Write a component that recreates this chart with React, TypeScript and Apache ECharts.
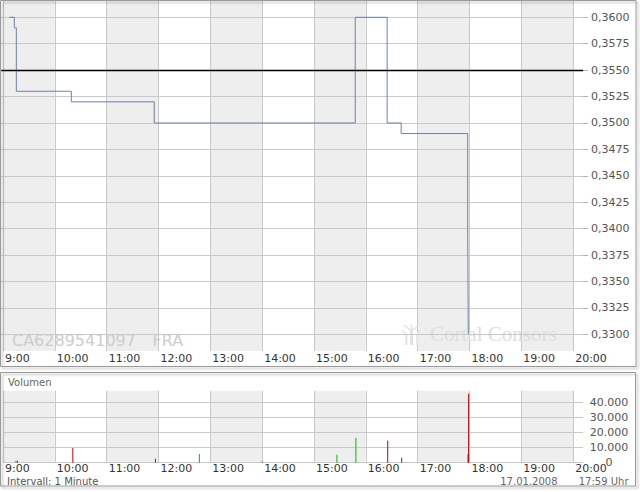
import React, { useEffect, useRef } from "react";
import * as echarts from "echarts";

// ---- data ----
const hourLabels = ["9:00", "10:00", "11:00", "12:00", "13:00", "14:00", "15:00", "16:00", "17:00", "18:00", "19:00", "20:00"];
const priceTimes = ["09:09:00", "09:15:00", "09:17:20", "10:20:50", "11:56:30", "15:48:30", "16:25:20", "16:41:30", "17:58:20", "17:59:00"];
const priceValues = [0.36, 0.359, 0.353, 0.352, 0.35, 0.36, 0.35, 0.349, 0.34, 0.33];
const previousClose = 0.355;
const volumeTimes = ["09:15:00", "09:16:40", "10:20:50", "11:56:30", "12:47:20", "14:00:00", "15:26:30", "15:48:30", "16:25:20", "16:41:30", "17:58:20", "17:59:00"];
const volumeValues = [1300, 1300, 9700, 2650, 5800, 1000, 5300, 16500, 14600, 3300, 5700, 45500];
const volumeDirection = ["up", "down", "down", "down", "up", "up", "up", "up", "down", "down", "down", "down"];
const isin = "CA6289541097";
const exchange = "FRA";
const dateText = "17.01.2008";
const timeText = "17:59 Uhr";
const intervalText = "Intervall: 1 Minute";

const toHours = (s: string) => {
  const [h, m, sec] = s.split(":").map(Number);
  return h + m / 60 + (sec || 0) / 3600;
};

const X_MIN = 9;
const X_MAX = 20.19;
const FONT = "DejaVu Sans";
const GRID_LINE = "#c9c9c9";

export default function App() {
  const ref = useRef<HTMLDivElement>(null);
  useEffect(() => {
    if (!ref.current) return;
    const chart = echarts.init(ref.current, null, { renderer: "svg" });

    const hourFmt = (v: number) => hourLabels[Math.round(v) - 9] ?? "";
    const baseX = (gridIndex: number, showStuff: boolean, margin: number) => ({
      type: "value" as const,
      gridIndex,
      min: X_MIN,
      max: X_MAX,
      interval: 1,
      show: showStuff,
      z: -1,
      axisLine: { show: false },
      axisTick: { show: false },
      splitArea: { show: showStuff, areaStyle: { color: ["#eeeeee", "#ffffff"] } },
      splitLine: { show: showStuff, showMaxLine: false, lineStyle: { color: GRID_LINE, width: 1 } },
      axisLabel: {
        show: showStuff,
        formatter: hourFmt,
        showMaxLabel: false,
        align: "left",
        padding: [0, 0, 0, 2],
        margin,
        lineHeight: 11,
        fontFamily: FONT,
        fontSize: 11,
        color: "#333",
      },
    });

    const pricePoints = priceTimes.map((t, i) => [toHours(t), priceValues[i]]);
    const volumePoints = volumeTimes.map((t, i) => ({
      value: [toHours(t), volumeValues[i]],
      itemStyle: { color: volumeDirection[i] === "up" ? "#00c000" : "#c00000" },
    }));

    const fmtThousands = (v: number) => {
      const s = Math.round(v).toString();
      return s.replace(/\B(?=(\d{3})+(?!\d))/g, ".");
    };

    chart.setOption({
      animation: false,
      backgroundColor: "#ffffff",
      grid: [
        { left: 1.3, right: 57, top: 1, height: 350 },
        { left: 1.3, right: 57, top: 1, height: 333.3 },
        { left: 1.3, right: 57, top: 390.7, height: 72 },
      ],
      xAxis: [
        baseX(0, true, 1.5),
        { ...baseX(1, false, 1) },
        baseX(2, true, 0.5),
      ],
      yAxis: [
        { type: "value", gridIndex: 0, min: 0, max: 1, show: false },
        {
          type: "value",
          gridIndex: 1,
          position: "right",
          min: 0.33,
          max: 0.361543,
          interval: 0.0025,
          axisLine: { show: false },
          axisTick: { show: true, length: 5, lineStyle: { color: "#b0b0b0" } },
          splitLine: { show: true, showMaxLine: false, lineStyle: { color: GRID_LINE, width: 1 } },
          axisLabel: {
            showMaxLabel: false,
            margin: 8,
            formatter: (v: number) => v.toFixed(4).replace(".", ","),
            fontFamily: FONT,
            fontSize: 11,
            color: "#555",
          },
        },
        {
          type: "value",
          gridIndex: 2,
          position: "right",
          min: 0,
          max: 47550,
          interval: 10000,
          axisLine: { show: false },
          axisTick: { show: false },
          splitLine: { show: true, showMaxLine: false, lineStyle: { color: GRID_LINE, width: 1 } },
          axisLabel: {
            showMaxLabel: false,
            margin: 26,
            align: "center",
            lineHeight: 11,
            formatter: fmtThousands,
            fontFamily: FONT,
            fontSize: 11,
            color: "#555",
          },
        },
      ],
      series: [
        {
          type: "line",
          xAxisIndex: 1,
          yAxisIndex: 1,
          step: "end",
          symbol: "none",
          data: pricePoints,
          lineStyle: { color: "#6f80a8", width: 1 },
          markLine: {
            silent: true,
            precision: 4,
            symbol: ["none", "none"],
            label: { show: false },
            lineStyle: { color: "#000000", width: 1.3, type: "solid" },
            data: [{ yAxis: previousClose }],
          },
          z: 3,
        },
        {
          type: "bar",
          xAxisIndex: 2,
          yAxisIndex: 2,
          barWidth: 1,
          data: volumePoints,
          z: 3,
        },
      ],
      graphic: [
        {
          type: "rect",
          shape: { x: 0.5, y: 0.5, width: 635.5, height: 366 },
          style: { fill: "none", stroke: "#9a9a9a", lineWidth: 1, shadowBlur: 2, shadowOffsetX: 2, shadowOffsetY: 2, shadowColor: "rgba(0,0,0,0.3)" },
          silent: true,
          z: 10,
        },
        {
          type: "rect",
          shape: { x: 0.5, y: 372.5, width: 635, height: 113.5 },
          style: { fill: "none", stroke: "#9a9a9a", lineWidth: 1, shadowBlur: 2, shadowOffsetX: 2, shadowOffsetY: 2, shadowColor: "rgba(0,0,0,0.3)" },
          silent: true,
          z: 10,
        },
        {
          type: "text",
          x: 12,
          y: 340,
          style: { text: isin, fontFamily: FONT, fontSize: 16, fill: "#cdcdcd", verticalAlign: "middle" },
          silent: true,
        },
        {
          type: "text",
          x: 152.5,
          y: 340,
          style: { text: exchange, fontFamily: FONT, fontSize: 16, fill: "#cdcdcd", verticalAlign: "middle" },
          silent: true,
        },
        {
          type: "group",
          x: 402,
          y: 325,
          silent: true,
          children: [
            { type: "rect", shape: { x: 8, y: 6, width: 3, height: 14 }, style: { fill: "#e2e2e2" } },
            { type: "rect", shape: { x: 3, y: 9, width: 2.5, height: 11 }, style: { fill: "#e6e6e6" } },
            { type: "rect", shape: { x: 14, y: 9, width: 2.5, height: 11 }, style: { fill: "#e6e6e6" } },
            { type: "line", shape: { x1: 9.5, y1: 6, x2: 2, y2: 0 }, style: { stroke: "#e2e2e2", lineWidth: 1.5 } },
            { type: "line", shape: { x1: 9.5, y1: 6, x2: 17, y2: 0 }, style: { stroke: "#e2e2e2", lineWidth: 1.5 } },
            { type: "line", shape: { x1: 9.5, y1: 5, x2: 9.5, y2: 0 }, style: { stroke: "#e2e2e2", lineWidth: 1.5 } },
            { type: "line", shape: { x1: 4, y1: 9, x2: 0, y2: 5 }, style: { stroke: "#e6e6e6", lineWidth: 1.2 } },
            { type: "line", shape: { x1: 15, y1: 9, x2: 19, y2: 5 }, style: { stroke: "#e6e6e6", lineWidth: 1.2 } },
          ],
        },
        {
          type: "text",
          x: 430,
          y: 334,
          style: { text: "Cortal Consors", fontFamily: "Liberation Serif", fontSize: 21, fill: "#dedede", verticalAlign: "middle" },
          silent: true,
        },
        {
          type: "text",
          x: 8,
          y: 382.5,
          style: { text: "Volumen", fontFamily: FONT, fontSize: 10, fill: "#666", verticalAlign: "middle" },
          silent: true,
        },
        {
          type: "text",
          x: 7,
          y: 481.3,
          style: { text: intervalText, fontFamily: FONT, fontSize: 10, lineHeight: 10, fill: "#555", verticalAlign: "middle" },
          silent: true,
        },
        {
          type: "text",
          x: 557.5,
          y: 481.3,
          style: { text: dateText, fontFamily: FONT, fontSize: 10, lineHeight: 10, fill: "#666", align: "right", verticalAlign: "middle" },
          silent: true,
        },
        {
          type: "text",
          x: 628.5,
          y: 481.3,
          style: { text: timeText, fontFamily: FONT, fontSize: 10, lineHeight: 10, fill: "#666", align: "right", verticalAlign: "middle" },
          silent: true,
        },
      ],
    });
    return () => chart.dispose();
  }, []);

  return (
    <div
      ref={ref}
      style={{ position: "absolute", left: 0, top: 0, width: 640, height: 492 }}
    />
  );
}
